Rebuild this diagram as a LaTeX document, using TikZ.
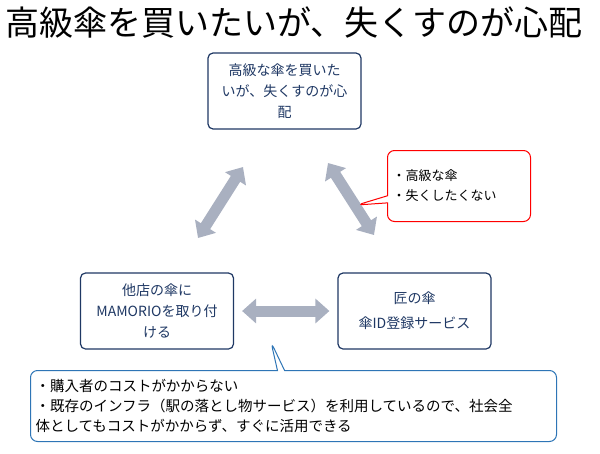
\documentclass[tikz,border=0pt]{standalone}
\usepackage{fontspec}
\setmainfont{Noto Sans CJK JP}
\usetikzlibrary{arrows.meta,shapes.callouts}
\definecolor{navy}{HTML}{1F3864}
\definecolor{boxtext}{HTML}{1F3864}
\definecolor{fatgray}{HTML}{A9B0C0}
\definecolor{noteblue}{HTML}{2E75B6}
\begin{document}
\begin{tikzpicture}[x=1pt,y=-1pt,
    idea/.style={draw=navy,line width=1.2pt,rounded corners=5pt,fill=white,
      minimum width=153pt,minimum height=76pt,align=center,text=boxtext,
      font=\fontsize{14}{21}\selectfont},
    fat/.style={draw=fatgray,line width=11pt,
      {Triangle[width=24pt,length=14pt]}-{Triangle[width=24pt,length=14pt]}},
    note/.style={rectangle callout,rounded corners=7pt,line width=1pt,fill=white,
      align=left,inner sep=5pt,anchor=north west}
  ]
  \useasboundingbox (0,0) rectangle (600,453);
  \node[anchor=west,font=\fontsize{34}{36}\selectfont] (title) at (2,23) {高級傘を買いたいが、失くすのが心配};

  \node[idea] (top) at (284.5,91) {高級な傘を買いた\\いが、失くすのが心\\配};
  \node[idea] (left) at (157,311) {他店の傘に\\MAMORIOを取り付\\ける};
  \node[idea] (right) at (414.5,311) {匠の傘\\[4pt]傘ID登録サービス};

  \coordinate (l1) at (243,167);
  \coordinate (l2) at (198,238);
  \coordinate (r1) at (328,163);
  \coordinate (r2) at (374,235);
  \draw[fat] (l1) -- (l2);
  \draw[fat] (r1) -- (r2);
  \draw[fat] ([xshift=8pt]left.east) -- ([xshift=-8pt]right.west);

  \node[note,draw=red,text width=133pt,minimum height=71pt,font=\fontsize{13}{20}\selectfont,
    callout absolute pointer={(357,205)}] (wish) at (387,150)
    {・高級な傘\\・失くしたくない};
  \node[note,draw=noteblue,text width=516pt,minimum height=71pt,font=\fontsize{14.5}{20}\selectfont,
    callout absolute pointer={(271,342)}] (merit) at (30,370)
    {・購入者のコストがかからない\\・既存のインフラ（駅の落とし物サービス）を利用しているので、社会全\\体としてもコストがかからず、すぐに活用できる};
\end{tikzpicture}
\end{document}
